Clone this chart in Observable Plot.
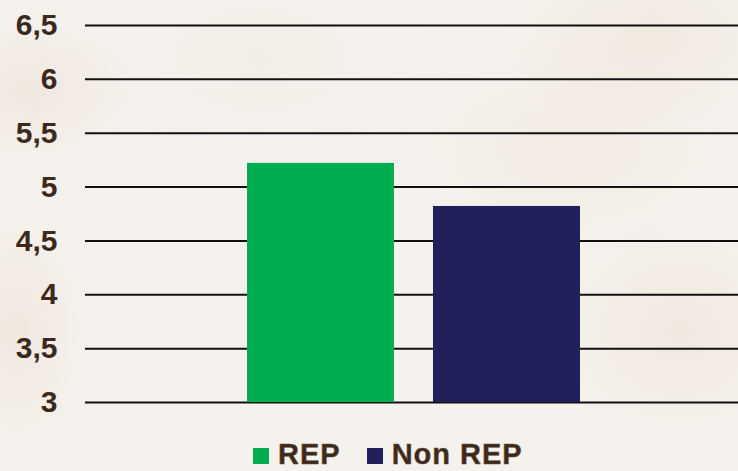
<!DOCTYPE html>
<html>
<head>
<meta charset="utf-8">
<script src="https://cdn.jsdelivr.net/npm/d3@7"></script>
<script src="https://cdn.jsdelivr.net/npm/@observablehq/plot@0.6"></script>
<style>
  html, body { margin: 0; padding: 0; }
  body {
    width: 738px; height: 471px; overflow: hidden; position: relative;
    font-family: "Liberation Sans", Arial, sans-serif;
    background-color: #f5f2ed;
    background-image:
      radial-gradient(ellipse 110px 80px at 30px 90px, rgba(228,212,195,0.35), transparent),
      radial-gradient(ellipse 80px 130px at 15px 330px, rgba(228,212,195,0.35), transparent),
      radial-gradient(ellipse 160px 90px at 650px 40px, rgba(232,220,204,0.4), transparent),
      radial-gradient(ellipse 140px 120px at 680px 330px, rgba(232,218,203,0.4), transparent),
      radial-gradient(ellipse 180px 110px at 570px 150px, rgba(234,222,208,0.35), transparent),
      radial-gradient(ellipse 200px 120px at 260px 60px, rgba(236,228,218,0.3), transparent);
  }
  #chart svg { display: block; background: transparent; }
  #legend {
    position: absolute; top: 441px; left: 253px;
    display: flex; align-items: center;
    font-size: 29px; line-height: 26px; font-weight: bold; color: #3b2a1c;
    letter-spacing: 1px;
    -webkit-text-stroke: 0.5px #6b4e34;
  }
  .item { display: flex; align-items: center; margin-right: 26px; }
  .sw { width: 16px; height: 16px; margin-right: 9px; margin-top: 4px; }
</style>
</head>
<body>
<div id="chart"></div>
<div id="legend"></div>
<script>
const categories = ["REP", "Non REP"];
const values = [5.22, 4.82];
const colors = ["#00ae4f", "#20205a"];
const yTicks = [3, 3.5, 4, 4.5, 5, 5.5, 6, 6.5];

const data = categories.map((c, i) => ({category: c, value: values[i]}));

const chart = Plot.plot({
  width: 738,
  height: 430,
  marginTop: 25,
  marginBottom: 28,
  marginLeft: 85,
  marginRight: 0,
  style: {background: "transparent", fontFamily: "'Liberation Sans', Arial, sans-serif"},
  x: {domain: categories, range: [207, 620], padding: 0.21, axis: null},
  y: {domain: [3, 6.5], axis: null},
  color: {domain: categories, range: colors},
  marks: [
    Plot.ruleY(yTicks, {stroke: "#111", strokeWidth: 2}),
    Plot.barY(data, {x: "category", y1: 3, y2: "value", fill: "category"}),
    Plot.axisY(yTicks, {
      tickSize: 0,
      tickPadding: 28,
      tickFormat: d => String(d).replace(".", ","),
      fontSize: 30,
      fontWeight: "bold",
      fill: "#3b2a1c",
      stroke: "#6b4e34",
      strokeWidth: 0.5,
      label: null
    })
  ]
});
document.getElementById("chart").appendChild(chart);

const legend = document.getElementById("legend");
categories.forEach((c, i) => {
  const item = document.createElement("div");
  item.className = "item";
  const sw = document.createElement("div");
  sw.className = "sw";
  sw.style.background = colors[i];
  const t = document.createElement("span");
  t.textContent = c;
  item.appendChild(sw);
  item.appendChild(t);
  legend.appendChild(item);
});
</script>
</body>
</html>
